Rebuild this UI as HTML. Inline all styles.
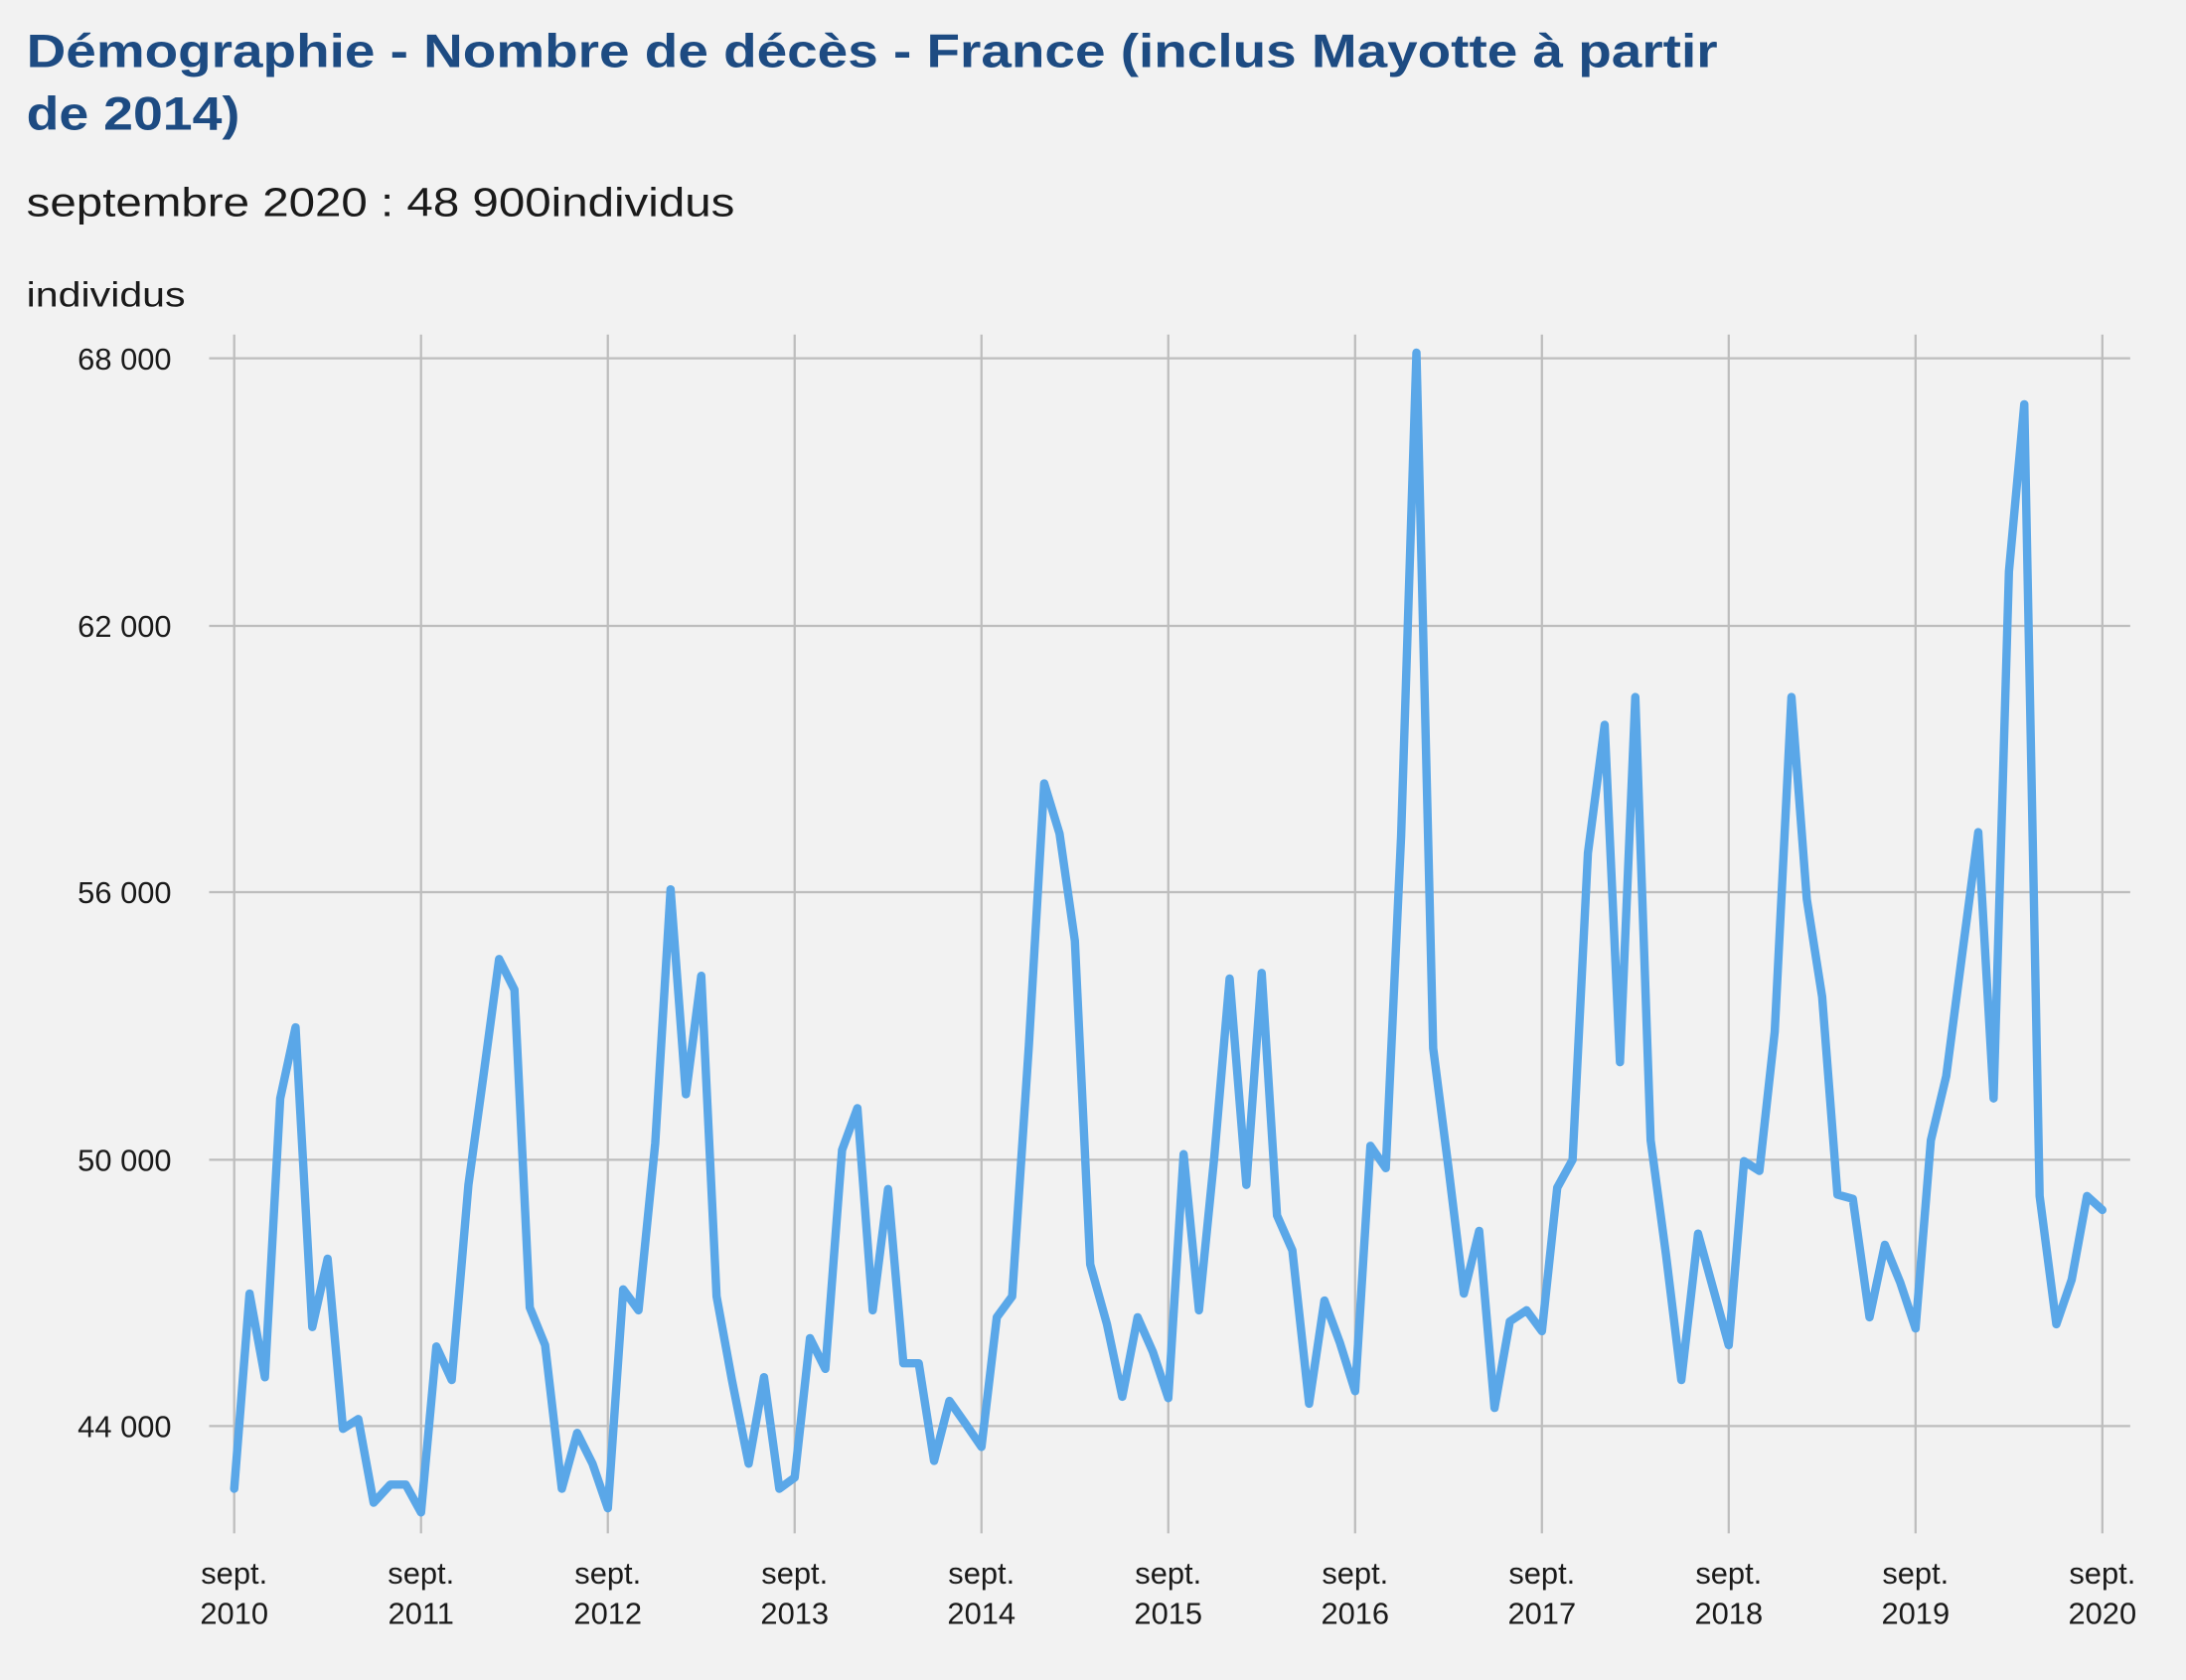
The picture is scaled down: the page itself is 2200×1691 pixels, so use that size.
<!DOCTYPE html>
<html><head><meta charset="utf-8"><style>
html,body{margin:0;padding:0;background:#f2f2f2;}
svg{display:block;}
text{font-family:"Liberation Sans","DejaVu Sans",sans-serif;}
</style></head><body>
<svg width="2200" height="1691" viewBox="0 0 1568 1205.2" xmlns="http://www.w3.org/2000/svg">
<rect width="1568" height="1205.2" fill="#f2f2f2"/>
<text x="19" y="48" font-size="34" font-weight="bold" fill="#1d4b82" textLength="1213" lengthAdjust="spacingAndGlyphs">Démographie - Nombre de décès - France (inclus Mayotte à partir</text>
<text x="19" y="93" font-size="34" font-weight="bold" fill="#1d4b82" textLength="153" lengthAdjust="spacingAndGlyphs">de 2014)</text>
<text x="19" y="155" font-size="29" fill="#1a1a1a" textLength="508" lengthAdjust="spacingAndGlyphs">septembre 2020 : 48 900individus</text>
<text x="19" y="220" font-size="25" fill="#1a1a1a" textLength="114" lengthAdjust="spacingAndGlyphs">individus</text>
<g stroke="#bdbdbd" stroke-width="1.6">
<line x1="150" y1="257" x2="1528" y2="257"/>
<line x1="150" y1="449" x2="1528" y2="449"/>
<line x1="150" y1="640" x2="1528" y2="640"/>
<line x1="150" y1="832" x2="1528" y2="832"/>
<line x1="150" y1="1023" x2="1528" y2="1023"/>
<line x1="168" y1="240" x2="168" y2="1100"/>
<line x1="302" y1="240" x2="302" y2="1100"/>
<line x1="436" y1="240" x2="436" y2="1100"/>
<line x1="570" y1="240" x2="570" y2="1100"/>
<line x1="704" y1="240" x2="704" y2="1100"/>
<line x1="838" y1="240" x2="838" y2="1100"/>
<line x1="972" y1="240" x2="972" y2="1100"/>
<line x1="1106" y1="240" x2="1106" y2="1100"/>
<line x1="1240" y1="240" x2="1240" y2="1100"/>
<line x1="1374" y1="240" x2="1374" y2="1100"/>
<line x1="1508" y1="240" x2="1508" y2="1100"/>
</g>
<g font-size="22" fill="#1a1a1a" text-anchor="end">
<text x="123" y="265">68 000</text>
<text x="123" y="457">62 000</text>
<text x="123" y="648">56 000</text>
<text x="123" y="840">50 000</text>
<text x="123" y="1031">44 000</text>
</g>
<g font-size="22" fill="#1a1a1a" text-anchor="middle">
<text x="168" y="1136">sept.</text><text x="168" y="1165">2010</text>
<text x="302" y="1136">sept.</text><text x="302" y="1165">2011</text>
<text x="436" y="1136">sept.</text><text x="436" y="1165">2012</text>
<text x="570" y="1136">sept.</text><text x="570" y="1165">2013</text>
<text x="704" y="1136">sept.</text><text x="704" y="1165">2014</text>
<text x="838" y="1136">sept.</text><text x="838" y="1165">2015</text>
<text x="972" y="1136">sept.</text><text x="972" y="1165">2016</text>
<text x="1106" y="1136">sept.</text><text x="1106" y="1165">2017</text>
<text x="1240" y="1136">sept.</text><text x="1240" y="1165">2018</text>
<text x="1374" y="1136">sept.</text><text x="1374" y="1165">2019</text>
<text x="1508" y="1136">sept.</text><text x="1508" y="1165">2020</text>
</g>
<polyline fill="none" stroke="#5aa7e8" stroke-width="6" stroke-linejoin="round" stroke-linecap="round" points="
168,1068 179,928 190,988 201,788 212,737 224,952 235,903 246,1025 257,1018 268,1078 280,1065 291,1065
302,1085 313,966 324,990 336,850 347,770 358,688 369,710 380,938 391,965 403,1068 414,1028 425,1050
436,1082 447,925 458,940 470,820 481,638 492,785 503,700 514,930 525,990 537,1050 548,988 559,1068
570,1060 581,960 592,982 604,825 615,795 626,940 637,853 648,978 659,978 670,1048 681,1005 693,1022
704,1038 715,945 726,930 738,750 749,562 760,598 771,675 782,907 794,950 805,1002 816,945 827,970
838,1003 849,828 860,940 871,830 882,702 894,850 905,698 916,872 927,897 939,1007 950,933 961,963
972,998 983,822 994,838 1005,600 1016,253 1028,752 1039,838 1050,928 1061,883 1072,1010 1083,948 1095,940
1106,955 1117,852 1128,832 1139,612 1151,520 1162,762 1173,500 1184,818 1195,900 1206,990 1218,885 1229,925
1240,965 1251,833 1262,840 1273,740 1285,500 1296,645 1307,715 1318,857 1329,860 1341,945 1352,893 1363,920
1374,953 1385,818 1396,772 1407,688 1419,597 1430,788 1441,410 1452,290 1463,858 1475,950 1486,918 1497,858
1508,868"/>
</svg>
</body></html>
